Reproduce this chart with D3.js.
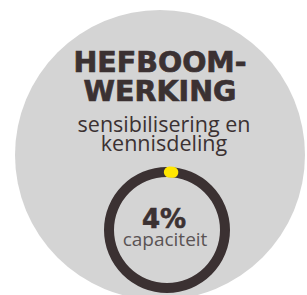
<!DOCTYPE html>
<html>
<head>
<meta charset="utf-8">
<script src="https://cdn.jsdelivr.net/npm/d3@7"></script>
<style>
  html, body { margin: 0; padding: 0; background: #ffffff; }
  svg { display: block; }
</style>
</head>
<body>
<svg id="chart" width="307" height="295"></svg>
<script>
// ---- data ----
const titleLines = ["HEFBOOM-", "WERKING"];
const subtitleLines = ["sensibilisering en", "kennisdeling"];
const shareCategories = ["hefboomwerking", "overige"];
const shareValues = [4, 96];
const shareLabel = "capaciteit";

// ---- drawing ----
const svg = d3.select("#chart");

const bgColor = "#d4d4d4";
const dark = "#3b3132";
const yellow = "#ffe600";

// big background circle
svg.append("circle")
  .attr("cx", 160).attr("cy", 155).attr("r", 145)
  .attr("fill", bgColor);

// title
const title = svg.append("g").attr("font-family", "DejaVu Sans")
  .attr("font-weight", "bold").attr("fill", dark)
  .attr("stroke", dark).attr("stroke-width", 0.7)
  .attr("text-anchor", "middle");
const titleY = d3.scalePoint().domain(titleLines).range([71.5, 101]);
title.selectAll("text").data(titleLines).join("text")
  .attr("x", 160).attr("y", d => titleY(d))
  .attr("font-size", 28.5)
  .text(d => d);

// subtitle
const sub = svg.append("g").attr("font-family", "Open Sans")
  .attr("fill", dark).attr("text-anchor", "middle");
const subY = d3.scalePoint().domain(subtitleLines).range([132, 151]);
sub.selectAll("text").data(subtitleLines).join("text")
  .attr("x", 164).attr("y", d => subY(d))
  .attr("font-size", 21.5)
  .text(d => d);

// donut ring
const cx = 167, cy = 230;
const rOuter = 63, rInner = 53;
const g = svg.append("g").attr("transform", `translate(${cx},${cy})`);

g.append("path")
  .attr("d", d3.arc().innerRadius(rInner).outerRadius(rOuter)
    .startAngle(0).endAngle(2 * Math.PI)())
  .attr("fill", dark);

const pie = d3.pie().sort(null).value(d => d)
  .startAngle(-0.055).endAngle(2 * Math.PI - 0.055);
const arcs = pie(shareValues);
const arcGen = d3.arc().innerRadius(rInner - 0.5).outerRadius(rOuter + 0.5).cornerRadius(5.5);
g.append("path")
  .attr("d", arcGen(arcs[0]))
  .attr("fill", yellow);

// center labels
g.append("text")
  .attr("x", -3).attr("y", -2)
  .attr("text-anchor", "middle")
  .attr("font-family", "DejaVu Sans").attr("font-weight", "bold")
  .attr("font-size", 26).attr("fill", dark)
  .attr("stroke", dark).attr("stroke-width", 0.6)
  .text(shareValues[0] + "%");

g.append("text")
  .attr("x", -2).attr("y", 16)
  .attr("text-anchor", "middle")
  .attr("font-family", "Open Sans")
  .attr("font-size", 19).attr("fill", "#5a5354")
  .text(shareLabel);
</script>
</body>
</html>
